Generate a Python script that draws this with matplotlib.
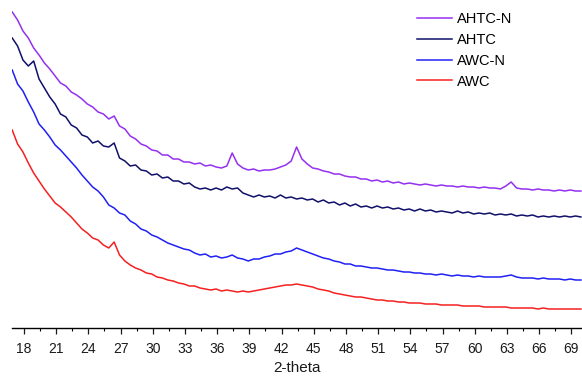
import numpy as np
import matplotlib
matplotlib.use("Agg")
import matplotlib.pyplot as plt
from matplotlib.ticker import MultipleLocator

plt.rcParams['font.family'] = ['Liberation Sans', 'DejaVu Sans']

# 2-theta grid (degrees)
two_theta = np.arange(16.9, 69.95, 0.5)

# Intensities (arbitrary units, offset stacked)
ahtc_n = [316, 308, 297, 290, 280, 273, 265, 259, 252, 245,
          242, 236, 233, 229, 224, 221, 216, 214, 209, 212,
          202, 199, 192, 189, 184, 182, 178, 177, 173, 173,
          169, 169, 166, 166, 164, 165, 162, 163, 161, 160,
          162, 175, 164, 160, 158, 159, 157, 158, 158, 159,
          161, 163, 167, 181, 169, 164, 160, 159, 157, 156,
          154, 154, 152, 151, 151, 149, 149, 147, 148, 146,
          147, 145, 146, 144, 145, 144, 143, 144, 143, 142,
          143, 142, 142, 141, 142, 141, 141, 140, 141, 140,
          140, 139, 142, 146, 140, 139, 139, 138, 139, 138,
          138, 137, 138, 137, 138, 137, 137]

ahtc = [290, 282, 268, 262, 267, 249, 240, 231, 224, 214,
        211, 203, 200, 193, 191, 185, 187, 182, 181, 185,
        170, 167, 162, 163, 158, 157, 153, 154, 150, 151,
        147, 147, 144, 145, 141, 139, 140, 138, 140, 138,
        141, 139, 140, 135, 133, 131, 133, 131, 132, 130,
        133, 130, 131, 129, 130, 128, 129, 126, 128, 125,
        126, 123, 125, 122, 124, 121, 122, 120, 122, 120,
        121, 119, 120, 118, 119, 117, 119, 117, 118, 116,
        117, 116, 115, 117, 115, 116, 114, 115, 114, 115,
        113, 114, 113, 114, 112, 113, 112, 113, 111, 112,
        111, 112, 111, 112, 111, 112, 111]

awc_n = [258, 244, 237, 226, 216, 204, 198, 191, 183, 178,
         172, 166, 160, 153, 147, 141, 137, 131, 123, 120,
         115, 113, 107, 104, 99, 97, 93, 91, 88, 85,
         83, 81, 79, 78, 75, 73, 74, 71, 72, 70,
         71, 73, 70, 69, 67, 69, 69, 71, 72, 74,
         74, 76, 77, 80, 78, 76, 74, 72, 70, 69,
         67, 66, 64, 64, 62, 62, 61, 60, 60, 59,
         58, 58, 57, 56, 56, 55, 55, 54, 54, 53,
         54, 53, 52, 53, 52, 52, 51, 52, 51, 51,
         51, 51, 52, 53, 51, 50, 50, 50, 49, 50,
         49, 49, 49, 48, 49, 48, 48]

awc = [198, 184, 176, 165, 155, 147, 139, 132, 125, 121,
       116, 111, 105, 99, 95, 90, 88, 83, 80, 86,
       73, 67, 63, 60, 58, 55, 54, 51, 50, 48,
       47, 45, 44, 42, 42, 40, 39, 38, 39, 37,
       38, 37, 36, 37, 36, 37, 38, 39, 40, 41,
       42, 43, 43, 44, 43, 42, 41, 39, 38, 37,
       35, 34, 33, 32, 31, 31, 30, 29, 28, 28,
       27, 27, 26, 26, 25, 25, 25, 24, 24, 24,
       23, 23, 23, 23, 22, 22, 22, 22, 21, 21,
       21, 21, 21, 20, 20, 20, 20, 20, 19, 20,
       19, 19, 19, 19, 19, 19, 19]

labels = ["AHTC-N", "AHTC", "AWC-N", "AWC"]
colors = ["#9430F0", "#10106A", "#2020F5", "#F52020"]
series = [ahtc_n, ahtc, awc_n, awc]
major_ticks = list(range(18, 70, 3))

W, H = 582, 378
fig = plt.figure(figsize=(W / 100, H / 100), dpi=100)
ax = fig.add_axes([12 / W, 50 / H, 570 / W, 328 / H])

for lab, col, ys in zip(labels, colors, series):
    ax.plot(two_theta, ys, color=col, lw=1.1, label=lab)

ax.set_xlim(16.88, 70.0)
ax.set_ylim(0, 328)
for s in ["top", "left", "right"]:
    ax.spines[s].set_visible(False)
ax.spines["bottom"].set_linewidth(1.0)
ax.set_yticks([])
ax.set_xticks(major_ticks)
ax.xaxis.set_minor_locator(MultipleLocator(1.5))
ax.tick_params(axis="x", which="major", length=4.5, width=0.9, direction="out",
               labelsize=10, pad=5.5, colors="#1a1a1a")
ax.tick_params(axis="x", which="minor", length=2.5, width=0.8, direction="out")
ax.set_xlabel("2-theta", fontsize=11, labelpad=4, color="#1a1a1a")

leg = ax.legend(loc="upper left", bbox_to_anchor=(417 / W, 1 - 12 / H),
                bbox_transform=fig.transFigure, frameon=False, fontsize=10.5,
                handlelength=2.4, handletextpad=0.35, labelspacing=0.47,
                borderpad=0, borderaxespad=0)

fig.savefig("out.png", dpi=100)
